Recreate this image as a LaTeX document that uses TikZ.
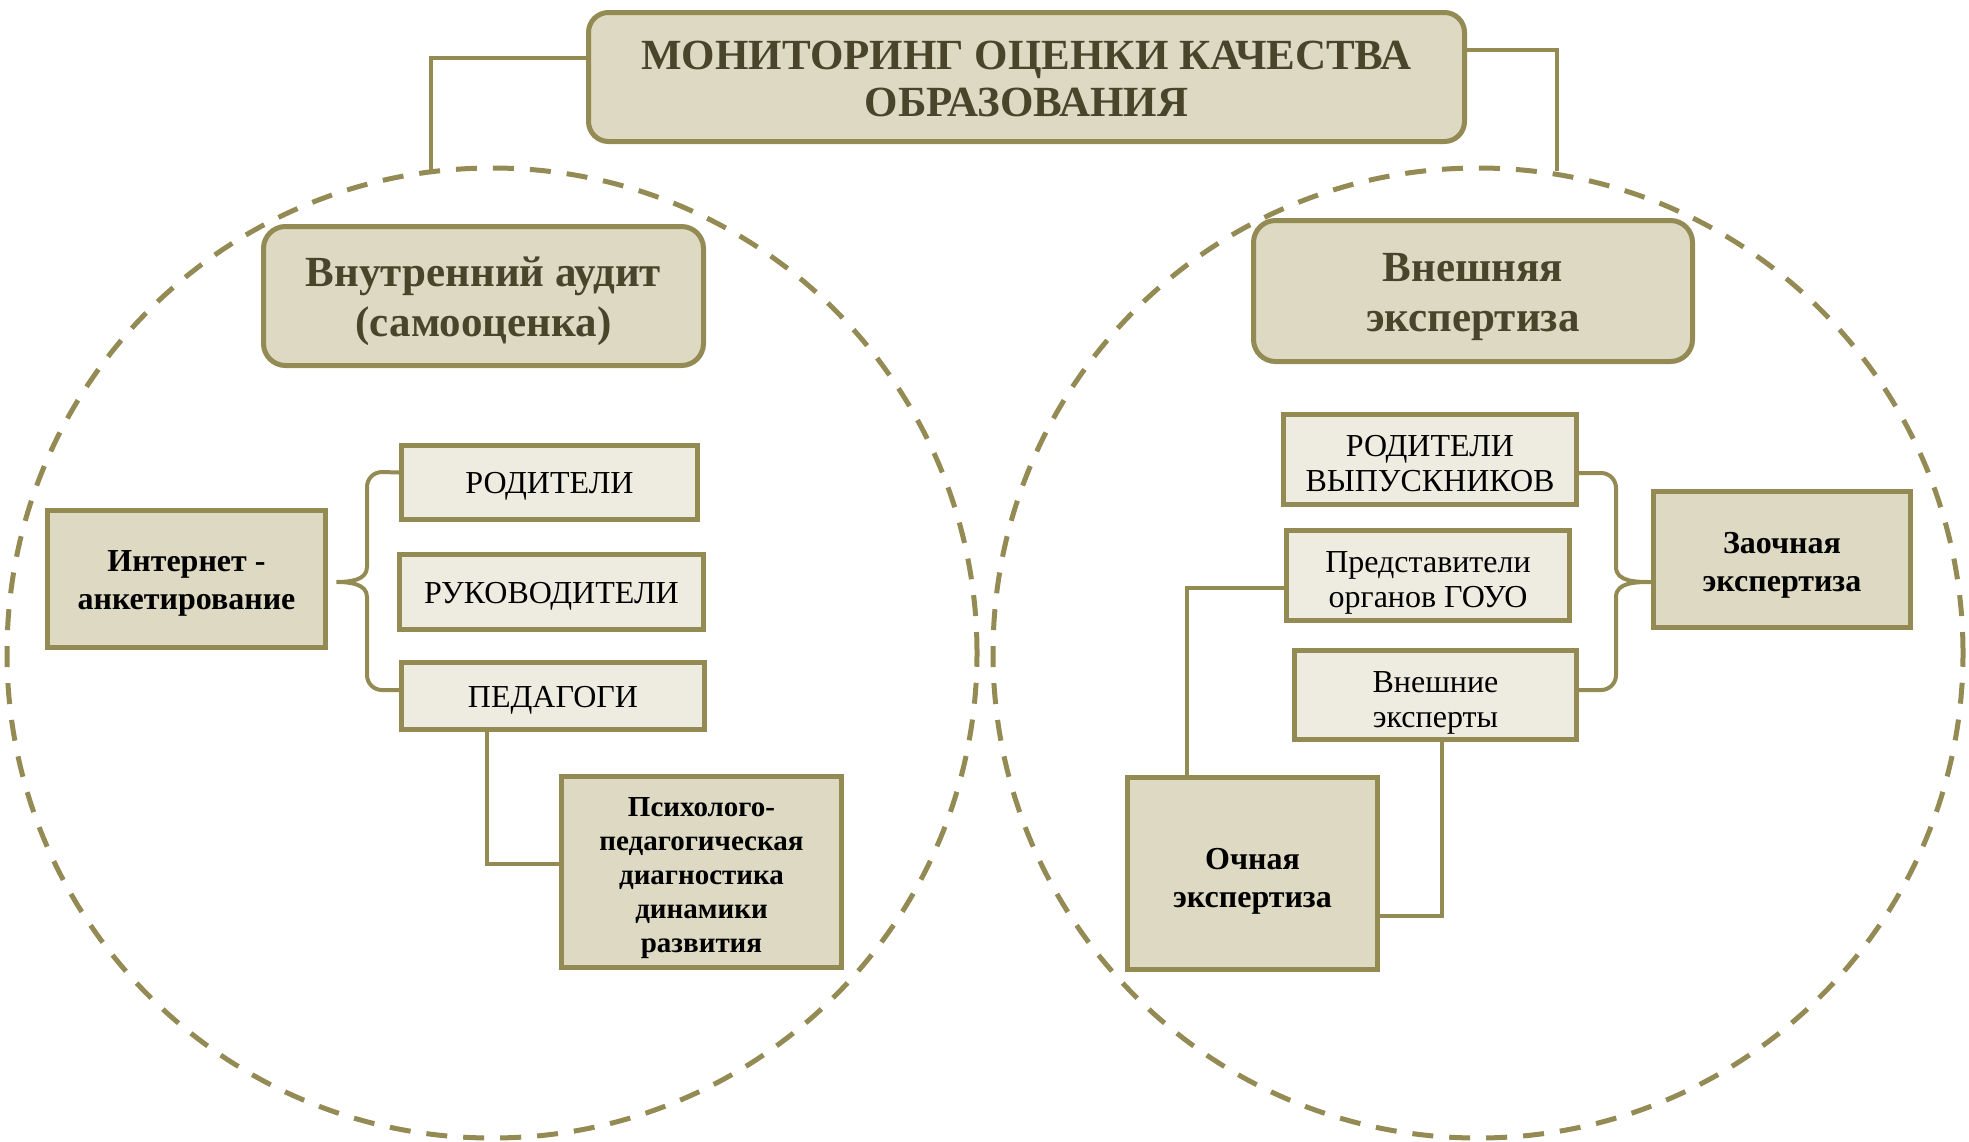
\documentclass[tikz,border=0pt]{standalone}
\usepackage{fontspec}
\setmainfont{Liberation Serif}
\definecolor{ol}{HTML}{948A54}
\definecolor{dk}{HTML}{DDD9C3}
\definecolor{lt}{HTML}{EEECE1}
\definecolor{tx}{HTML}{4A452A}
\newcommand\myup[1]{\rule{0pt}{#1em}}
\begin{document}
\begin{tikzpicture}[x=1pt,y=-1pt,
 box/.style={draw=ol, line width=5pt, inner sep=0pt, align=center},
 darkbox/.style={box, fill=dk, font=\bfseries\fontsize{32}{38}\selectfont},
 lightbox/.style={box, fill=lt, font=\fontsize{32}{35}\selectfont},
 headbox/.style={box, fill=dk, rounded corners=22pt, text=tx, font=\bfseries\fontsize{43}{50}\selectfont},
 conn/.style={draw=ol, line width=4pt},
 ring/.style={draw=ol, line width=5pt, dash pattern=on 21pt off 16pt}]
\useasboundingbox (0,0) rectangle (1969,1141);
\fill[white] (0,0) rectangle (1969,1141);
% dashed circles
\draw[ring] (492,653) circle[radius=485pt];
\draw[ring] (1478,653) circle[radius=485pt];
% nodes
\node[headbox, rounded corners=20pt, minimum width=876pt, minimum height=129pt, font=\bfseries\fontsize{43}{47}\selectfont] (top) at (1026.5,77) {\myup{0.75}МОНИТОРИНГ ОЦЕНКИ КАЧЕСТВА\\ОБРАЗОВАНИЯ};
\node[headbox, minimum width=440pt, minimum height=139pt] (hL) at (483.5,296) {\myup{0.92}Внутренний аудит\\(самооценка)};
\node[headbox, minimum width=439pt, minimum height=141pt] (hR) at (1473,291) {\myup{0.92}Внешняя\\экспертиза};
\node[darkbox, minimum width=278pt, minimum height=137pt] (inet) at (186.5,579) {\myup{0.9}Интернет -\\анкетирование};
\node[lightbox, minimum width=296pt, minimum height=74pt] (rodL) at (549.5,482.5) {\myup{0.92}РОДИТЕЛИ};
\node[lightbox, minimum width=304pt, minimum height=75pt] (ruk) at (551.5,592) {\myup{0.92}РУКОВОДИТЕЛИ};
\node[lightbox, minimum width=303pt, minimum height=67pt] (ped) at (553,696) {\myup{0.92}ПЕДАГОГИ};
\node[darkbox, font=\bfseries\fontsize{29}{34}\selectfont, minimum width=280pt, minimum height=191pt] (psy) at (701.5,872) {\myup{1.04}Психолого-\\педагогическая\\диагностика\\динамики\\развития};
\node[lightbox, minimum width=293pt, minimum height=90pt] (rodR) at (1430,459.5) {\myup{0.89}РОДИТЕЛИ\\ВЫПУСКНИКОВ};
\node[lightbox, minimum width=283pt, minimum height=90pt] (pred) at (1428,575.5) {\myup{1.1}Представители\\органов ГОУО};
\node[lightbox, minimum width=282pt, minimum height=89pt] (vnesh) at (1435.5,695) {\myup{1.15}Внешние\\эксперты};
\node[darkbox, minimum width=257pt, minimum height=136pt] (zaoch) at (1782,559.5) {\myup{1.05}Заочная\\экспертиза};
\node[darkbox, minimum width=250pt, minimum height=192pt] (och) at (1252.5,873.5) {\myup{1.12}Очная\\экспертиза};
% connectors
\coordinate (cL) at (431,171);
\coordinate (cR) at (1557,171);
\draw[conn] ([yshift=19pt]top.west) -| (cL);
\draw[conn] ([yshift=27pt]top.east) -| (cR);
\draw[conn] ([yshift=10pt]rodL.west) -- (382,472) to[out=180,in=90] (367,487) -- (367,567)
  to[out=-90,in=0] ([xshift=8.5pt,yshift=-3pt]inet.east) to[out=0,in=90] (367,597) -- (367,675)
  to[out=-90,in=180] (382,690) -- ([yshift=6pt]ped.west);
\draw[conn] ([yshift=-13.5pt]rodR.east) -- (1601,473) to[out=0,in=90] (1616,488) -- (1616,567)
  to[out=-90,in=180] ([yshift=-22.5pt]zaoch.west) to[out=180,in=90] (1616,597) -- (1616,675)
  to[out=-90,in=0] (1601,690) -- ([yshift=5pt]vnesh.east);
\draw[conn] ([xshift=-66pt]ped.south) |- ([yshift=8pt]psy.west);
\draw[conn] ([yshift=-12.5pt]pred.west) -| ([xshift=-65.5pt]och.north);
\draw[conn] ([xshift=6.5pt]vnesh.south) |- ([yshift=-42.5pt]och.east);
\end{tikzpicture}
\end{document}
